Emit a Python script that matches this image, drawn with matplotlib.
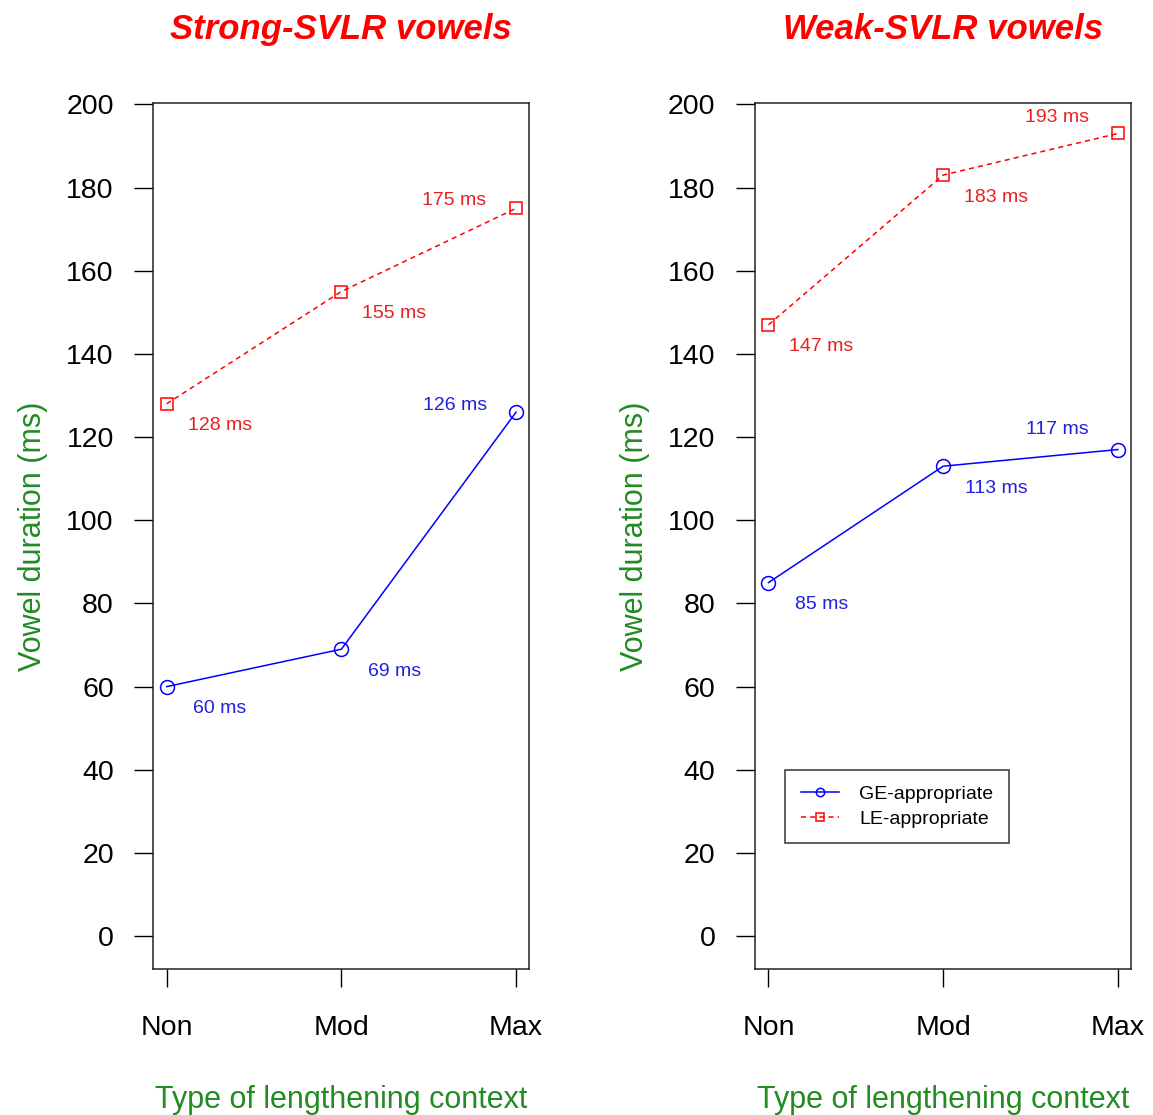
import matplotlib
matplotlib.use("Agg")
import matplotlib.pyplot as plt

plt.rcParams['font.family'] = ['Liberation Sans', 'DejaVu Sans']

contexts = ["Non", "Mod", "Max"]
panel_titles = ["Strong-SVLR vowels", "Weak-SVLR vowels"]
ge_values = [[60, 69, 126], [85, 113, 117]]
le_values = [[128, 155, 175], [147, 183, 193]]
yticks = [0, 20, 40, 60, 80, 100, 120, 140, 160, 180, 200]
series_names = ["GE-appropriate", "LE-appropriate"]

W, H = 1153, 1115
fig = plt.figure(figsize=(W / 100, H / 100), dpi=100)

ax_lefts = [152.7 / W, 754.5 / W]
ax_w = 376.5 / W
ax_b = 1 - 969 / H
ax_h = (969 - 102.7) / H

green = '#228B22'
below_right = (53, -22)

for p in range(2):
    ax = fig.add_axes([ax_lefts[p], ax_b, ax_w, ax_h])
    x = [1, 2, 3]
    ax.plot(x, ge_values[p], color='blue', lw=1.1, marker='o', ms=10,
            mfc='none', mec='blue', mew=1.1, label=series_names[0])
    ax.plot(x, le_values[p], color='red', lw=1.1, ls=(0, (3.3, 2.7)), marker='s', ms=8.5,
            mfc='none', mec='red', mew=1.1, label=series_names[1])
    ax.set_xlim(0.92, 3.075)
    ax.set_ylim(-7.9, 200.4)
    ax.set_xticks(x)
    ax.set_xticklabels(contexts)
    ax.set_yticks(yticks)
    ax.tick_params(axis='y', length=14, width=1.0, pad=14, labelsize=20.5, colors='black')
    ax.tick_params(axis='x', length=13, width=1.0, pad=20, labelsize=20.5, colors='black')
    for s in ax.spines.values():
        s.set_linewidth(1.1)
        s.set_color('#222222')
    ax.set_ylabel("Vowel duration (ms)", color=green, fontsize=22, labelpad=13)
    ax.set_xlabel("Type of lengthening context", color=green, fontsize=22, labelpad=32)
    ax.set_title(panel_titles[p], color='red', fontsize=25, fontweight='bold',
                 fontstyle='italic', pad=46)

    for i in range(3):
        if i < 2:
            off_ge = below_right
            off_le = below_right
        else:
            if p == 0:
                off_ge = (-61, 7)
                off_le = (-62, 8)
            else:
                off_ge = (-61, 20)
                off_le = (-61, 16)
        ax.annotate(f"{ge_values[p][i]} ms", (x[i], ge_values[p][i]), xytext=off_ge,
                    textcoords='offset pixels', ha='center', va='center',
                    color='#2020E0', fontsize=14)
        ax.annotate(f"{le_values[p][i]} ms", (x[i], le_values[p][i]), xytext=off_le,
                    textcoords='offset pixels', ha='center', va='center',
                    color='#E82020', fontsize=14)

    if p == 1:
        leg = ax.legend(loc='upper left',
                        bbox_to_anchor=((785 - 754.5) / 376.5, (969 - 770) / (969 - 102.7)),
                        borderaxespad=0, fontsize=14, frameon=True, fancybox=False,
                        edgecolor='black', handlelength=2.0, borderpad=0.8,
                        labelspacing=0.35, handletextpad=1.0, markerscale=0.6)
        leg.get_frame().set_linewidth(1.1)

fig.savefig("out.png", dpi=100)
